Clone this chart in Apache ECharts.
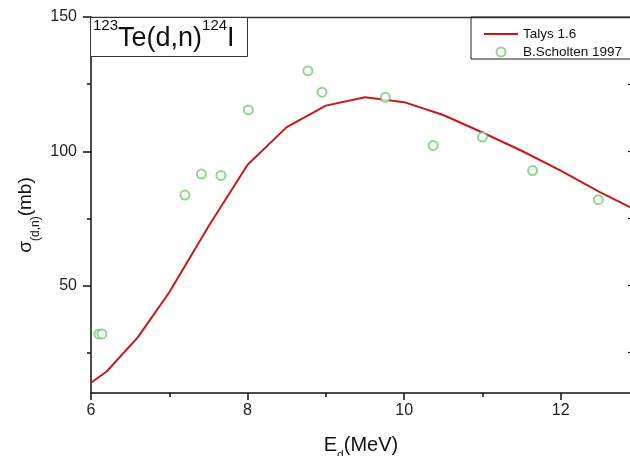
<!DOCTYPE html>
<html>
<head>
    <meta charset="UTF-8">
    <title>123Te(d,n)124I</title>
    <style>
        html, body {
            margin: 0;
            padding: 0;
            overflow: hidden;
            background: #ffffff;
        }
        /* the plot runs a little past the right edge of the picture */
        #main {
            width: 650px;
            height: 456px;
        }
    </style>
</head>
<body>
<div id="main"></div>

<script type="text/javascript" src="https://cdn.jsdelivr.net/npm/echarts@6/dist/echarts.min.js"></script>
<script type="text/javascript">

    // ---------- data ----------
    var talysE = [6.0, 6.2, 6.6, 7.0, 7.5, 8.0, 8.5, 9.0, 9.5, 10.0, 10.5, 11.0, 11.5, 12.0, 12.5, 13.0];
    var talysSigma = [13.8, 18.0, 30.8, 47.5, 72.0, 95.0, 109.0, 117.0, 120.1, 118.3, 113.5, 107.0, 100.2, 92.8, 84.8, 77.5];

    var scholtenE = [6.10, 6.14, 7.20, 7.41, 7.66, 8.01, 8.77, 8.95, 9.76, 10.37, 11.00, 11.64, 12.48];
    var scholtenSigma = [32.0, 32.0, 83.7, 91.5, 91.0, 115.4, 129.9, 122.0, 120.1, 102.2, 105.3, 92.8, 82.0];

    var xMajorTicks = [6, 8, 10, 12];
    var xMinorTicks = [7, 9, 11, 13];
    var yMajorTicks = [50, 100, 150];
    var yMinorTicks = [25, 75, 125];

    function pairs(xs, ys) {
        var out = [];
        for (var i = 0; i < xs.length; i++) {
            out.push([xs[i], ys[i]]);
        }
        return out;
    }

    var FONT = '"Liberation Sans", Arial, sans-serif';

    var myChart = echarts.init(document.getElementById('main'));

    var option = {
        animation: false,
        backgroundColor: '#ffffff',
        textStyle: {fontFamily: FONT},

        grid: {
            left: 91,
            right: 11,
            top: 17,
            bottom: 63
        },

        //---------- legend ----------
        legend: {
            orient: 'vertical',
            left: 471,
            top: 17,
            padding: [10, 200, 0, 12],
            itemWidth: 34,
            itemHeight: 9,
            itemGap: 4,
            borderColor: '#222',
            borderWidth: 1,
            textStyle: {
                fontFamily: FONT,
                fontSize: 13.5,
                color: '#111'
            },
            data: [
                {name: 'Talys 1.6', itemStyle: {opacity: 0}},   // line only, no dot
                {name: 'B.Scholten 1997'}
            ]
        },

        //---------- x axes ----------
        xAxis: [
            {
                type: 'value',
                min: 6,
                max: 13,
                position: 'bottom',
                axisLine: {show: true, lineStyle: {color: '#111', width: 1.5}},
                axisTick: {
                    show: true,
                    length: 7,
                    customValues: xMajorTicks,
                    lineStyle: {color: '#111', width: 1.5}
                },
                axisLabel: {
                    customValues: xMajorTicks,
                    margin: 10,
                    fontSize: 16,
                    color: '#222',
                    fontFamily: FONT
                },
                splitLine: {show: false}
            },
            {
                // minor ticks only
                type: 'value',
                min: 6,
                max: 13,
                position: 'bottom',
                axisLine: {show: false},
                axisTick: {
                    show: true,
                    length: 4,
                    customValues: xMinorTicks,
                    lineStyle: {color: '#111', width: 1.5}
                },
                axisLabel: {show: false},
                splitLine: {show: false}
            },
            {
                // top frame line
                type: 'value',
                min: 6,
                max: 13,
                position: 'top',
                axisLine: {show: true, lineStyle: {color: '#333', width: 1.3}},
                axisTick: {show: false},
                axisLabel: {show: false},
                splitLine: {show: false}
            }
        ],

        //---------- y axes ----------
        yAxis: [
            {
                type: 'value',
                min: 10,
                max: 150,
                position: 'left',
                axisLine: {show: true, lineStyle: {color: '#111', width: 1.5}},
                axisTick: {
                    show: true,
                    length: 8,
                    customValues: yMajorTicks,
                    lineStyle: {color: '#111', width: 1.5}
                },
                axisLabel: {
                    customValues: yMajorTicks,
                    margin: 14,
                    fontSize: 16,
                    color: '#222',
                    fontFamily: FONT
                },
                splitLine: {show: false}
            },
            {
                type: 'value',
                min: 10,
                max: 150,
                position: 'left',
                axisLine: {show: false},
                axisTick: {
                    show: true,
                    length: 4,
                    customValues: yMinorTicks,
                    lineStyle: {color: '#111', width: 1.5}
                },
                axisLabel: {show: false},
                splitLine: {show: false}
            },
            {
                // right frame, its inward ticks just peek into the picture
                type: 'value',
                min: 10,
                max: 150,
                position: 'right',
                axisLine: {show: true, lineStyle: {color: '#111', width: 1.5}},
                axisTick: {
                    show: true,
                    inside: true,
                    length: 11,
                    customValues: [25, 50, 75, 100, 125],
                    lineStyle: {color: '#111', width: 1.2}
                },
                axisLabel: {show: false},
                splitLine: {show: false}
            }
        ],

        //---------- title box and axis names ----------
        graphic: [
            {
                type: 'rect',
                shape: {x: 90.5, y: 17.5, width: 157, height: 39},
                style: {fill: '#fff', stroke: '#333', lineWidth: 1},
                z: 10
            },
            {
                type: 'text',
                x: 93,
                y: 18,
                z: 11,
                style: {
                    text: '{sup|123}{big|Te(d,n)}{sup|124}{big|I}',
                    fill: '#111',
                    rich: {
                        sup: {fontSize: 15, fontFamily: FONT, verticalAlign: 'top', lineHeight: 18, fill: '#111'},
                        big: {fontSize: 27, fontFamily: FONT, verticalAlign: 'bottom', lineHeight: 34, fill: '#111'}
                    }
                }
            },
            {
                type: 'text',
                x: 361,
                y: 435,
                style: {
                    text: '{m|E}{s|d}{m|(MeV)}',
                    align: 'center',
                    fill: '#111',
                    rich: {
                        m: {fontSize: 20, fontFamily: FONT, verticalAlign: 'top', lineHeight: 23, fill: '#111'},
                        s: {fontSize: 12, fontFamily: FONT, verticalAlign: 'bottom', lineHeight: 27, fill: '#111'}
                    }
                }
            },
            {
                type: 'text',
                x: 29,
                y: 215,
                rotation: Math.PI / 2,
                style: {
                    text: '{m|σ}{s|(d,n)}{m|(mb)}',
                    align: 'center',
                    verticalAlign: 'middle',
                    fill: '#111',
                    rich: {
                        m: {fontSize: 19, fontFamily: FONT, verticalAlign: 'top', lineHeight: 22, fill: '#111'},
                        s: {fontSize: 12, fontFamily: FONT, verticalAlign: 'bottom', lineHeight: 26, fill: '#111'}
                    }
                }
            }
        ],

        //---------- series ----------
        series: [
            {
                name: 'Talys 1.6',
                type: 'line',
                xAxisIndex: 0,
                yAxisIndex: 0,
                symbol: 'none',
                smooth: false,
                lineStyle: {color: '#c8181e', width: 2},
                itemStyle: {color: '#c8181e'},
                data: pairs(talysE, talysSigma)
            },
            {
                name: 'B.Scholten 1997',
                type: 'scatter',
                xAxisIndex: 0,
                yAxisIndex: 0,
                symbol: 'emptyCircle',
                symbolSize: 9,
                itemStyle: {color: '#74cc74', borderColor: '#74cc74', borderWidth: 1.3},
                data: pairs(scholtenE, scholtenSigma),
                z: 3
            }
        ]
    };

    myChart.setOption(option);

</script>
</body>
</html>
